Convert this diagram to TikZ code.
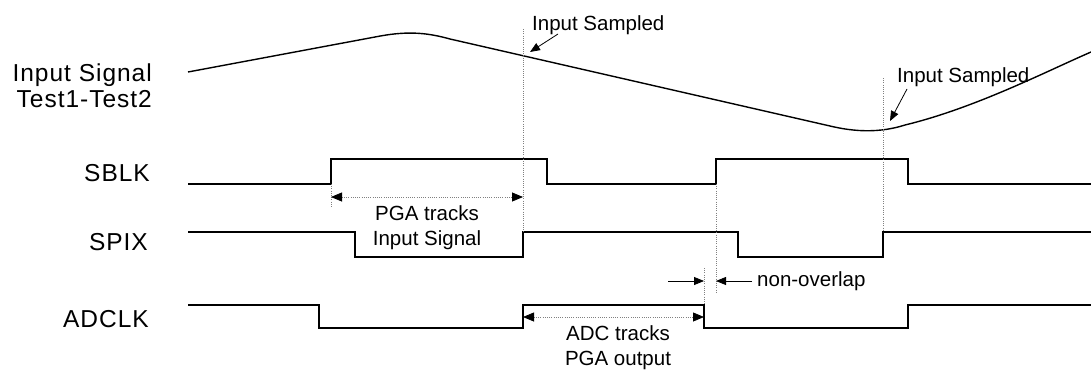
\documentclass[tikz,border=0pt]{standalone}
\usepackage{fontspec}
\setmainfont{Liberation Sans}
\newfontfamily\sigfont[LetterSpace=4]{Liberation Sans}
\usetikzlibrary{arrows.meta}
\usetikzlibrary{positioning}

\tikzset{
    wave/.style={line width=1.3pt, line join=miter},
    guide/.style={gray, line width=0.6pt, dash pattern=on 0.8pt off 1.4pt},
    tip/.style={-{Triangle[length=10pt,width=8pt]}},
    both tips/.style={{Triangle[length=11pt,width=9pt,color=black,fill=black,line width=0.8pt]}-{Triangle[length=11pt,width=9pt,color=black,fill=black,line width=0.8pt]}},
    sigtext/.style={font=\sigfont\fontsize{24.5}{26}\selectfont, inner sep=0pt},
    note/.style={font=\fontsize{20.5}{25}\selectfont, inner sep=0pt, align=center}
}

\begin{document}
\begin{tikzpicture}[x=1pt, y=-1pt]
        \useasboundingbox (0,0) rectangle (1091,370);
        % signal names
        \node[sigtext, align=right, anchor=north east] (IN) at (152,64) {Input Signal\\Test1-Test2};
        \node[sigtext, anchor=base east] (SBLK) at (150,181) {SBLK};
        \node[sigtext, anchor=base east] (SPIX) at (148,250) {SPIX};
        \node[sigtext, anchor=base east] (ADCLK) at (149,327) {ADCLK};

        % waveforms
        \draw[line width=1.4pt] (188,72) -- (375,37) .. controls (405,31) and (425,32) .. (450,39)
            -- (830,126) .. controls (855,132) and (880,133) .. (905,125)
            .. controls (975,108) and (1045,72) .. (1091,52);
        \draw[wave] (188,184) -- (331,184) -- (331,159) -- (547,159) -- (547,184) -- (716,184)
            -- (716,159) -- (908,159) -- (908,184) -- (1091,184);
        \draw[wave] (188,232) -- (355,232) -- (355,257) -- (523,257) -- (523,232) -- (738,232)
            -- (738,257) -- (883,257) -- (883,232) -- (1091,232);
        \draw[wave] (188,305) -- (319,305) -- (319,328) -- (523,328) -- (523,305) -- (704,305)
            -- (704,328) -- (908,328) -- (908,305) -- (1091,305);

        % guide lines
        \coordinate (S1top) at (523,29);
        \coordinate (S1bot) at (523,232);
        \coordinate (S2top) at (883,78);
        \coordinate (S2bot) at (883,232);
        \coordinate (PGAtop) at (331,184);
        \coordinate (PGAbot) at (331,208);
        \coordinate (NOtop) at (716,184);
        \coordinate (NObot) at (716,293);
        \coordinate (ADtop) at (704,268);
        \coordinate (ADbot) at (704,305);
        \path[guide]
            (S1top) edge (S1bot)
            (S2top) edge (S2bot)
            (PGAtop) edge (PGAbot)
            (NOtop) edge (NObot)
            (ADtop) edge (ADbot);

        % annotations
        \node[note, anchor=base west] (IS1) at (532,30) {Input Sampled};
        \node[note, anchor=base west] (IS2) at (897,82) {Input Sampled};
        \node[note, anchor=base west] (NO) at (757,286) {non-overlap};
        \node[note, anchor=north] (PGA) at (427,205) {PGA tracks\\Input Signal};
        \node[note, anchor=north] (ADC) at (618,325) {ADC tracks\\PGA output};

        \coordinate (IS1a) at (558,34);
        \coordinate (IS1b) at (530,52);
        \coordinate (IS2a) at (907,89);
        \coordinate (IS2b) at (890,121);
        \coordinate (PGAl) at (331,197);
        \coordinate (PGAr) at (523,197);
        \coordinate (ADCl) at (523,317);
        \coordinate (ADCr) at (704,317);
        \coordinate (NOl) at (668,281);
        \coordinate (NOr) at (752,281);
        \coordinate (NOla) at (704,281);
        \coordinate (NOra) at (716,281);

        \path[tip, line width=0.8pt]
            (IS1a) edge (IS1b)
            (IS2a) edge (IS2b)
            (NOl) edge (NOla)
            (NOr) edge (NOra);
        \path[guide, both tips]
            (PGAl) edge (PGAr)
            (ADCl) edge (ADCr);
    \end{tikzpicture}
\end{document}
